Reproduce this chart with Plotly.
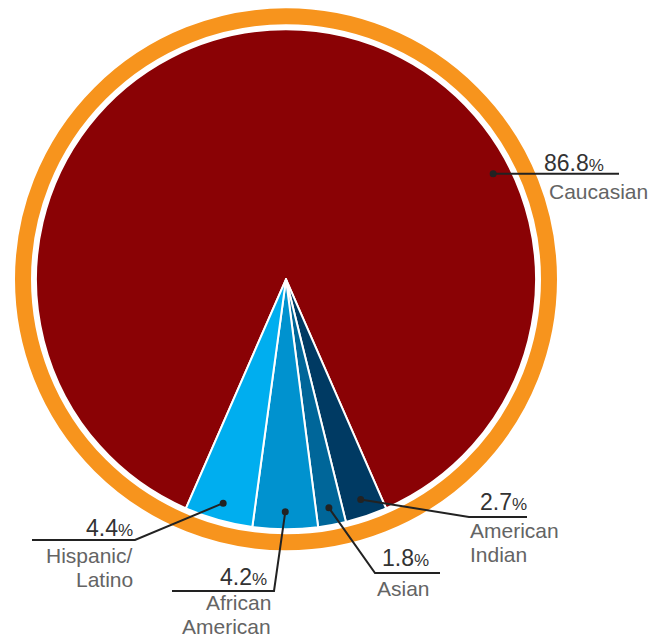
import math
import plotly.graph_objects as go

# Data
categories = ["Caucasian", "American Indian", "Asian", "African American", "Hispanic/Latino"]
shares = [86.8, 2.7, 1.8, 4.2, 4.4]
label_lines = [["Caucasian"], ["American", "Indian"], ["Asian"], ["African", "American"], ["Hispanic/", "Latino"]]

# Styling
slice_colors = ["#8A0205", "#003A63", "#006699", "#0092CF", "#00AEEF"]
ring_color = "#F7941D"
ink = "#222222"
num_color = "#333333"
name_color = "#646464"
W, H = 670, 637
cx, cy, R = 286.0, 279.3, 250.0
font_fam = "Liberation Sans, Arial, sans-serif"


def px(x):
    return x / W


def py(y):
    return 1 - y / H


total = sum(shares)
rotation = -shares[0] / total * 360 / 2

fig = go.Figure()
fig.add_trace(go.Pie(
    labels=categories,
    values=shares,
    sort=False,
    direction="clockwise",
    rotation=rotation,
    marker=dict(colors=slice_colors, line=dict(color="white", width=2)),
    textinfo="none",
    hoverinfo="label+percent",
    domain=dict(x=[px(cx - R), px(cx + R)], y=[py(cy + R), py(cy - R)]),
))

shapes = []
# orange outer ring
ring_r = 263
shapes.append(dict(type="circle", xref="paper", yref="paper",
                   x0=px(cx - ring_r), x1=px(cx + ring_r),
                   y0=py(cy + ring_r), y1=py(cy - ring_r),
                   line=dict(color=ring_color, width=16), fillcolor="rgba(0,0,0,0)",
                   layer="above"))

# slice mid-angles (clockwise from 12 o'clock) from the data
mid_angles = []
acc = rotation
for v in shares:
    span = v / total * 360
    mid_angles.append(acc + span / 2)
    acc += span
# the large slice gets its leader on the right-hand side
mid_angles[0] = 63

dot_r = 0.93 * R
# leader geometry per slice: elbow point and end of horizontal rule
elbows = [None, (469, 517), (375, 573), (274, 591), (135, 540)]
rule_ends = [619, 527, 440, 172, 32]

for i, ang in enumerate(mid_angles):
    t = math.radians(ang)
    dx = cx + dot_r * math.sin(t)
    dy = cy - dot_r * math.cos(t)
    if elbows[i] is None:
        path = f"M {px(dx)},{py(dy)} L {px(rule_ends[i])},{py(dy)}"
    else:
        ex, ey = elbows[i]
        path = (f"M {px(dx)},{py(dy)} L {px(ex)},{py(ey)} "
                f"L {px(rule_ends[i])},{py(ey)}")
    shapes.append(dict(type="path", xref="paper", yref="paper", path=path,
                       line=dict(color=ink, width=2), layer="above"))
    rd = 3.5
    shapes.append(dict(type="circle", xref="paper", yref="paper",
                       x0=px(dx - rd), x1=px(dx + rd), y0=py(dy + rd), y1=py(dy - rd),
                       fillcolor=ink, line=dict(width=0), layer="above"))

# label placement: number (x, anchor, y) and name lines (x, anchor, [y...])
placements = [
    ((543, "left", 163), (548, "left", [192])),
    ((528, "right", 502), (469, "left", [530, 554])),
    ((381, "left", 558), (376, "left", [588])),
    ((268, "right", 577), (272, "right", [602, 626])),
    ((134, "right", 528), (134, "right", [555, 579])),
]

annotations = []
for i, ((nx, na, ny), (lx, la, lys)) in enumerate(placements):
    annotations.append(dict(
        x=px(nx), y=py(ny), xref="paper", yref="paper", xanchor=na, yanchor="middle",
        showarrow=False, borderpad=0,
        text=f"{shares[i]:.1f}<span style='font-size:17px'>%</span>",
        font=dict(family=font_fam, size=23, color=num_color)))
    for line, ly in zip(label_lines[i], lys):
        annotations.append(dict(
            x=px(lx), y=py(ly), xref="paper", yref="paper", xanchor=la, yanchor="middle",
            showarrow=False, borderpad=0, text=line,
            font=dict(family=font_fam, size=21, color=name_color)))

fig.update_layout(
    width=W, height=H,
    margin=dict(l=0, r=0, t=0, b=0),
    paper_bgcolor="white", plot_bgcolor="white",
    showlegend=False,
    shapes=shapes,
    annotations=annotations,
)

fig.write_html("out.html")
